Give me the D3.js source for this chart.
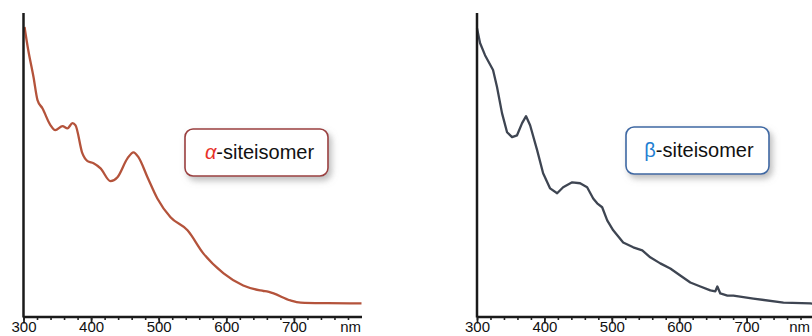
<!DOCTYPE html>
<html>
<head>
<meta charset="utf-8">
<script src="https://cdn.jsdelivr.net/npm/d3@7"></script>
<style>
  html, body { margin: 0; padding: 0; background: #fff; }
  svg { display: block; }
  text { font-family: "Liberation Sans", Arial, sans-serif; }
</style>
</head>
<body>
<svg id="chart" width="812" height="336"></svg>
<script>
// ---- Data (wavelength in nm, absorbance in arbitrary units) ----
const alphaWavelength = [301.5, 307, 314.8, 320.7, 328, 340, 347, 357.7, 365, 372.5, 377, 387, 394.7, 403.6, 414, 428.7, 439, 453.8, 462.7, 470, 483.4, 498, 517.5, 542.6, 566, 596, 625, 650, 655, 660, 670, 695, 710, 750, 800];
const alphaAbsorbance = [0.954, 0.878, 0.789, 0.713, 0.686, 0.630, 0.614, 0.627, 0.620, 0.637, 0.630, 0.538, 0.512, 0.505, 0.488, 0.446, 0.459, 0.521, 0.541, 0.525, 0.459, 0.389, 0.327, 0.284, 0.208, 0.142, 0.102, 0.086, 0.084, 0.083, 0.076, 0.053, 0.046, 0.044, 0.043];

const betaWavelength = [300, 304.5, 311.9, 323.8, 329.7, 337.1, 344.6, 352, 359.4, 366.9, 372.8, 378.8, 389.2, 398.1, 408.5, 418.9, 427.8, 441.2, 453, 463.4, 472.4, 478.3, 485.7, 493.2, 502.1, 516.9, 531.8, 545.2, 557, 571.9, 586.8, 601.6, 616.5, 631.4, 646.2, 653.6, 656.6, 661, 671.5, 680.4, 710, 754.7, 794.8, 800];
const betaAbsorbance = [0.950, 0.901, 0.861, 0.812, 0.756, 0.670, 0.607, 0.591, 0.597, 0.637, 0.660, 0.630, 0.548, 0.472, 0.422, 0.406, 0.426, 0.442, 0.439, 0.426, 0.389, 0.373, 0.360, 0.317, 0.284, 0.244, 0.228, 0.218, 0.195, 0.175, 0.158, 0.135, 0.112, 0.099, 0.086, 0.083, 0.099, 0.076, 0.069, 0.069, 0.059, 0.046, 0.043, 0.042];

const majorTicks = [300, 400, 500, 600, 700];
const minorTicks = d3.range(300, 800, 20);
const unitLabel = "nm";
const panelLabels = [
  { greek: "α", rest: "-siteisomer" },
  { greek: "β", rest: "-siteisomer" }
];

// ---- Layout ----
const svg = d3.select("#chart");
const defs = svg.append("defs");
const shadow = defs.append("filter").attr("id", "shadow")
  .attr("x", "-20%").attr("y", "-30%").attr("width", "150%").attr("height", "170%");
shadow.append("feDropShadow").attr("dx", 3).attr("dy", 4)
  .attr("stdDeviation", 3).attr("flood-color", "#888").attr("flood-opacity", 0.55);

const axisY = 316.5, topY = 13, labelBaseline = 332, labelSize = 15;
const y = d3.scaleLinear().domain([0, 1]).range([axisY, topY]);

const panels = [
  { x0: 23.5, width: 338, wl: alphaWavelength, ab: alphaAbsorbance, color: "#b4533b",
    curve: d3.curveMonotoneX, unitX: 361,
    box: { x: 185, y: 129, w: 143, h: 47, stroke: "#9a3f3f", greekColor: "#e8322a", italic: true, tx: 259.5, ty: 159 },
    label: panelLabels[0] },
  { x0: 477, width: 337, wl: betaWavelength, ab: betaAbsorbance, color: "#3e4552",
    curve: d3.curveLinear, unitX: 810,
    box: { x: 626, y: 127, w: 143, h: 47, stroke: "#3e68a3", greekColor: "#1f80d2", italic: false, tx: 699, ty: 157 },
    label: panelLabels[1] }
];

panels.forEach(p => {
  const x = d3.scaleLinear().domain([300, 800]).range([p.x0, p.x0 + p.width]);
  const g = svg.append("g");

  // curve
  const data = p.wl.map((w, i) => [w, p.ab[i]]);
  g.append("path")
    .datum(data)
    .attr("fill", "none")
    .attr("stroke", p.color)
    .attr("stroke-width", 2.3)
    .attr("stroke-linejoin", "round")
    .attr("d", d3.line().x(d => x(d[0])).y(d => y(d[1])).curve(p.curve));

  // minor ticks
  const minor = g.append("g").attr("transform", `translate(0,${axisY})`)
    .call(d3.axisBottom(x).tickValues(minorTicks).tickSize(3.5).tickFormat(""));
  minor.select(".domain").remove();
  minor.selectAll(".tick line").attr("stroke", "#222").attr("stroke-width", 1.6);

  // major ticks + labels
  const major = g.append("g").attr("transform", `translate(0,${axisY})`)
    .call(d3.axisBottom(x).tickValues(majorTicks).tickSize(7).tickSizeOuter(0).tickFormat(d3.format("d")));
  major.select(".domain").attr("stroke", "#1a1a1a").attr("stroke-width", 2.5);
  major.selectAll(".tick line").attr("stroke", "#222").attr("stroke-width", 1.8);
  major.selectAll(".tick text")
    .attr("y", labelBaseline - axisY).attr("dy", 0)
    .attr("font-size", labelSize).attr("fill", "#111")
    .attr("font-family", "'Liberation Sans', Arial, sans-serif");

  // unit label
  g.append("text")
    .attr("x", p.unitX).attr("y", labelBaseline)
    .attr("text-anchor", "end")
    .attr("font-size", labelSize).attr("fill", "#111")
    .text(unitLabel);

  // y axis line
  g.append("line")
    .attr("x1", p.x0).attr("x2", p.x0)
    .attr("y1", topY).attr("y2", axisY + 1)
    .attr("stroke", "#1a1a1a").attr("stroke-width", 2.5);

  // legend box
  const b = p.box;
  g.append("rect")
    .attr("x", b.x).attr("y", b.y).attr("width", b.w).attr("height", b.h)
    .attr("rx", 8).attr("ry", 8)
    .attr("fill", "#fff").attr("stroke", b.stroke).attr("stroke-width", 1.6)
    .attr("filter", "url(#shadow)");
  const t = g.append("text")
    .attr("x", b.tx).attr("y", b.ty)
    .attr("text-anchor", "middle")
    .attr("font-size", 20).attr("fill", "#111");
  t.append("tspan").attr("fill", b.greekColor)
    .attr("font-style", b.italic ? "italic" : "normal")
    .text(p.label.greek);
  t.append("tspan").text(p.label.rest);
});
</script>
</body>
</html>
